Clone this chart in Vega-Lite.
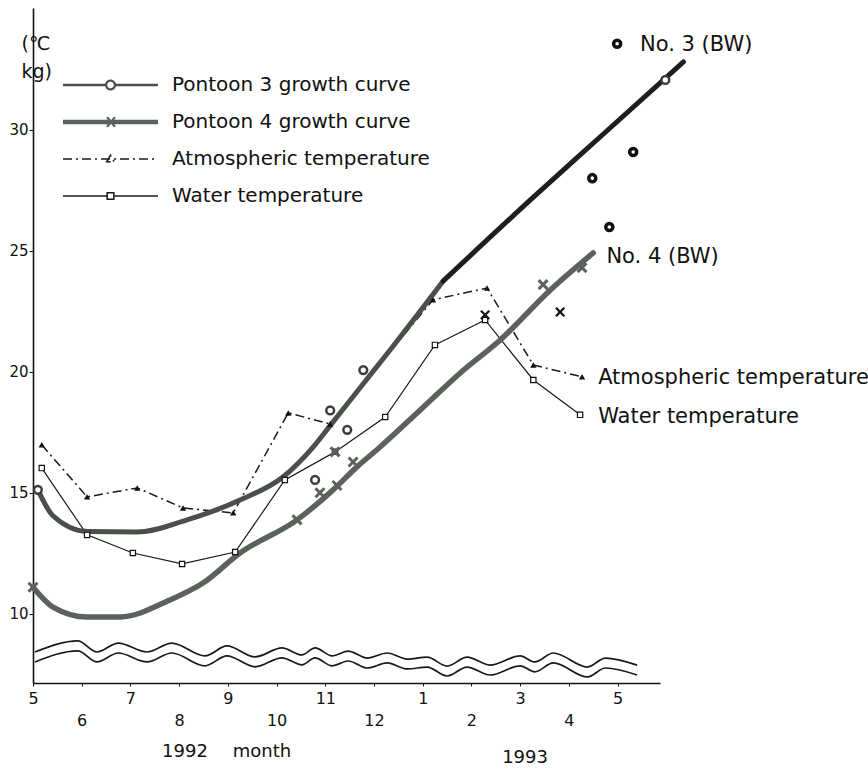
{
  "$schema": "https://vega.github.io/schema/vega-lite/v6.json",
  "width": 627,
  "height": 675,
  "autosize": {"type": "none"},
  "padding": {"left": 33, "top": 8, "right": 208, "bottom": 86},
  "background": "white",
  "config": {"view": {"stroke": null}, "font": "DejaVu Sans", "axis": {"grid": false}},
  "datasets": {
    "pontoon": [
      {"series": "Pontoon 3 growth curve", "m": 0.10, "v": 15.12},
      {"series": "Pontoon 3 growth curve", "m": 0.41, "v": 14.05},
      {"series": "Pontoon 3 growth curve", "m": 1.11, "v": 13.40},
      {"series": "Pontoon 3 growth curve", "m": 2.14, "v": 13.38},
      {"series": "Pontoon 3 growth curve", "m": 3.16, "v": 13.88},
      {"series": "Pontoon 3 growth curve", "m": 4.25, "v": 14.70},
      {"series": "Pontoon 3 growth curve", "m": 5.13, "v": 15.65},
      {"series": "Pontoon 3 growth curve", "m": 5.75, "v": 16.89},
      {"series": "Pontoon 3 growth curve", "m": 6.16, "v": 17.93},
      {"series": "Pontoon 3 growth curve", "m": 6.71, "v": 19.33},
      {"series": "Pontoon 3 growth curve", "m": 7.33, "v": 20.90},
      {"series": "Pontoon 3 growth curve", "m": 7.89, "v": 22.35},
      {"series": "Pontoon 3 growth curve", "m": 8.42, "v": 23.75},
      {"series": "Pontoon 3 growth curve", "m": 10.21, "v": 27.10},
      {"series": "Pontoon 3 growth curve", "m": 11.64, "v": 29.70},
      {"series": "Pontoon 3 growth curve", "m": 13.35, "v": 32.80},
      {"series": "Pontoon 4 growth curve", "m": 0.00, "v": 11.10},
      {"series": "Pontoon 4 growth curve", "m": 0.41, "v": 10.28},
      {"series": "Pontoon 4 growth curve", "m": 1.11, "v": 9.87},
      {"series": "Pontoon 4 growth curve", "m": 1.79, "v": 9.87},
      {"series": "Pontoon 4 growth curve", "m": 2.81, "v": 10.57},
      {"series": "Pontoon 4 growth curve", "m": 3.49, "v": 11.27},
      {"series": "Pontoon 4 growth curve", "m": 4.25, "v": 12.51},
      {"series": "Pontoon 4 growth curve", "m": 5.42, "v": 13.88},
      {"series": "Pontoon 4 growth curve", "m": 6.16, "v": 15.12},
      {"series": "Pontoon 4 growth curve", "m": 6.65, "v": 16.07},
      {"series": "Pontoon 4 growth curve", "m": 7.13, "v": 16.90},
      {"series": "Pontoon 4 growth curve", "m": 7.95, "v": 18.42},
      {"series": "Pontoon 4 growth curve", "m": 8.77, "v": 19.95},
      {"series": "Pontoon 4 growth curve", "m": 9.59, "v": 21.31},
      {"series": "Pontoon 4 growth curve", "m": 10.62, "v": 23.38},
      {"series": "Pontoon 4 growth curve", "m": 11.50, "v": 24.91}
    ],
    "temps": [
      {"series": "Atmospheric temperature", "m": 0.18, "v": 16.98},
      {"series": "Atmospheric temperature", "m": 1.11, "v": 14.83},
      {"series": "Atmospheric temperature", "m": 2.14, "v": 15.20},
      {"series": "Atmospheric temperature", "m": 3.08, "v": 14.37},
      {"series": "Atmospheric temperature", "m": 4.11, "v": 14.17},
      {"series": "Atmospheric temperature", "m": 5.24, "v": 18.30},
      {"series": "Atmospheric temperature", "m": 6.10, "v": 17.84},
      {"series": "Atmospheric temperature", "m": 8.21, "v": 22.97},
      {"series": "Atmospheric temperature", "m": 9.32, "v": 23.46},
      {"series": "Atmospheric temperature", "m": 10.27, "v": 20.28},
      {"series": "Atmospheric temperature", "m": 11.27, "v": 19.79},
      {"series": "Water temperature", "m": 0.18, "v": 16.02},
      {"series": "Water temperature", "m": 1.11, "v": 13.26},
      {"series": "Water temperature", "m": 2.05, "v": 12.51},
      {"series": "Water temperature", "m": 3.06, "v": 12.06},
      {"series": "Water temperature", "m": 4.15, "v": 12.55},
      {"series": "Water temperature", "m": 5.17, "v": 15.53},
      {"series": "Water temperature", "m": 6.20, "v": 16.69},
      {"series": "Water temperature", "m": 7.23, "v": 18.13},
      {"series": "Water temperature", "m": 8.25, "v": 21.11},
      {"series": "Water temperature", "m": 9.28, "v": 22.14},
      {"series": "Water temperature", "m": 10.27, "v": 19.66},
      {"series": "Water temperature", "m": 11.23, "v": 18.22}
    ],
    "p3marks": [
      {"m": 0.10, "v": 15.12}, {"m": 6.10, "v": 18.40}, {"m": 6.78, "v": 20.07},
      {"m": 12.98, "v": 32.06}, {"m": 5.79, "v": 15.53}, {"m": 6.45, "v": 17.60}
    ],
    "p3bw": [
      {"m": 11.99, "v": 33.55}, {"m": 12.32, "v": 29.08}, {"m": 11.48, "v": 28.00}, {"m": 11.83, "v": 25.98}
    ],
    "p4marks": [
      {"m": 0.00, "v": 11.10}, {"m": 5.42, "v": 13.88}, {"m": 5.89, "v": 15.00}, {"m": 6.24, "v": 15.30},
      {"m": 6.57, "v": 16.27}, {"m": 6.20, "v": 16.69}, {"m": 10.47, "v": 23.60}, {"m": 11.27, "v": 24.30}
    ],
    "p4bw": [
      {"m": 9.28, "v": 22.35}, {"m": 10.82, "v": 22.47}
    ],
    "breakwave": [
      {"line": "a", "m": 0.04, "v": 8.42}, {"line": "a", "m": 0.92, "v": 8.88}, {"line": "a", "m": 1.31, "v": 8.42},
      {"line": "a", "m": 1.75, "v": 8.79}, {"line": "a", "m": 2.34, "v": 8.42}, {"line": "a", "m": 2.85, "v": 8.79},
      {"line": "a", "m": 3.53, "v": 8.26}, {"line": "a", "m": 3.98, "v": 8.67}, {"line": "a", "m": 4.56, "v": 8.22},
      {"line": "a", "m": 5.11, "v": 8.59}, {"line": "a", "m": 5.52, "v": 8.30}, {"line": "a", "m": 5.79, "v": 8.59},
      {"line": "a", "m": 6.14, "v": 8.26}, {"line": "a", "m": 6.47, "v": 8.46}, {"line": "a", "m": 6.86, "v": 8.17},
      {"line": "a", "m": 7.27, "v": 8.38}, {"line": "a", "m": 7.68, "v": 8.13}, {"line": "a", "m": 8.09, "v": 8.21},
      {"line": "a", "m": 8.50, "v": 7.84}, {"line": "a", "m": 8.91, "v": 8.21}, {"line": "a", "m": 9.38, "v": 7.88},
      {"line": "a", "m": 10.00, "v": 8.26}, {"line": "a", "m": 10.30, "v": 8.01}, {"line": "a", "m": 10.68, "v": 8.38},
      {"line": "a", "m": 11.38, "v": 7.80}, {"line": "a", "m": 11.75, "v": 8.17}, {"line": "a", "m": 12.40, "v": 7.88},
      {"line": "b", "m": 0.04, "v": 8.01}, {"line": "b", "m": 0.92, "v": 8.47}, {"line": "b", "m": 1.31, "v": 8.01},
      {"line": "b", "m": 1.75, "v": 8.38}, {"line": "b", "m": 2.34, "v": 8.01}, {"line": "b", "m": 2.85, "v": 8.38},
      {"line": "b", "m": 3.53, "v": 7.85}, {"line": "b", "m": 3.98, "v": 8.26}, {"line": "b", "m": 4.56, "v": 7.81},
      {"line": "b", "m": 5.11, "v": 8.18}, {"line": "b", "m": 5.52, "v": 7.89}, {"line": "b", "m": 5.79, "v": 8.18},
      {"line": "b", "m": 6.14, "v": 7.85}, {"line": "b", "m": 6.47, "v": 8.05}, {"line": "b", "m": 6.86, "v": 7.76},
      {"line": "b", "m": 7.27, "v": 7.97}, {"line": "b", "m": 7.68, "v": 7.72}, {"line": "b", "m": 8.09, "v": 7.80},
      {"line": "b", "m": 8.50, "v": 7.43}, {"line": "b", "m": 8.91, "v": 7.80}, {"line": "b", "m": 9.38, "v": 7.47},
      {"line": "b", "m": 10.00, "v": 7.85}, {"line": "b", "m": 10.30, "v": 7.60}, {"line": "b", "m": 10.68, "v": 7.97},
      {"line": "b", "m": 11.38, "v": 7.39}, {"line": "b", "m": 11.75, "v": 7.76}, {"line": "b", "m": 12.40, "v": 7.47}
    ],
    "notesLeft": [
      {"label": "Atmospheric temperature", "m": 11.6, "v": 19.74},
      {"label": "Water temperature", "m": 11.6, "v": 18.13},
      {"label": "No. 3 (BW)", "m": 12.46, "v": 33.5},
      {"label": "No. 4 (BW)", "m": 11.77, "v": 24.74}
    ],
    "notesBottom": [
      {"label": "1992", "m": 3.12, "v": 4.29},
      {"label": "month", "m": 4.7, "v": 4.29},
      {"label": "1993", "m": 10.1, "v": 4.04}
    ]
  },
  "encoding": {
    "x": {
      "field": "m", "type": "quantitative",
      "scale": {"domain": [0, 12.87], "nice": false, "zero": false},
      "axis": {
        "values": [0, 1, 2, 3, 4, 5, 6, 7, 8, 9, 10, 11, 12],
        "labelExpr": "datum.value % 2 === 1 ? ['', '' + ((datum.value + 4) % 12 + 1)] : '' + ((datum.value + 4) % 12 + 1)",
        "labelLineHeight": 22,
        "title": null,
        "domainColor": "#111", "domainWidth": 1.6,
        "tickColor": "#111", "tickSize": 3, "tickWidth": 1,
        "labelFont": "DejaVu Sans", "labelFontSize": 16, "labelColor": "#111",
        "labelPadding": 4, "labelFlush": false, "labelOverlap": false
      }
    },
    "y": {
      "field": "v", "type": "quantitative",
      "scale": {"domain": [7.14, 35.03], "nice": false, "zero": false},
      "axis": {
        "values": [10, 15, 20, 25, 30],
        "title": ["(℃", "kg)"],
        "titleAngle": 0, "titleAlign": "left", "titleBaseline": "top",
        "titleX": -12, "titleY": 26, "titleFont": "DejaVu Sans", "titleFontSize": 19,
        "titleFontWeight": "normal", "titleLineHeight": 28, "titleColor": "#111",
        "labelFont": "DejaVu Sans", "labelFontSize": 15, "labelColor": "#111", "labelPadding": 1,
        "tickSize": 4, "tickColor": "#111", "domainColor": "#111", "domainWidth": 1.6
      }
    }
  },
  "layer": [
    {
      "data": {"name": "breakwave"},
      "mark": {"type": "line", "interpolate": "monotone", "color": "#1a1a1a", "strokeWidth": 1.7},
      "encoding": {"detail": {"field": "line", "type": "nominal"}}
    },
    {
      "data": {"name": "temps"},
      "transform": [{"filter": "datum.series === 'Water temperature'"}],
      "mark": {"type": "line", "strokeWidth": 1.2},
      "encoding": {
        "color": {
          "field": "series", "type": "nominal",
          "scale": {"domain": ["Pontoon 3 growth curve", "Pontoon 4 growth curve", "Atmospheric temperature", "Water temperature"], "range": ["#4a4f4a", "#5b625b", "#1a1a1a", "#1a1a1a"]},
          "legend": {
            "title": null, "orient": "none", "legendX": 29, "legendY": 67, "direction": "vertical",
            "symbolSize": 9025, "clipHeight": 20, "rowPadding": 17, "labelOffset": 13, "padding": 0,
            "labelFont": "DejaVu Sans", "labelFontSize": 20, "labelColor": "#111", "labelLimit": 400,
            "symbolStrokeWidth": 1.5,
            "encode": {"symbols": {"update": {
              "shape": {"signal": "datum.value === 'Pontoon 3 growth curve' ? 'M-1,-0.012H-0.1M0.1,-0.012H1M-1,0.012H-0.1M0.1,0.012H1M-0.1,0A0.1,0.1 0 1,1 0.1,0A0.1,0.1 0 1,1 -0.1,0M-0.085,0A0.085,0.085 0 1,1 0.085,0A0.085,0.085 0 1,1 -0.085,0' : datum.value === 'Pontoon 4 growth curve' ? 'M-1,-0.03H1M-1,-0.01H1M-1,0.01H1M-1,0.03H1M-0.08,-0.1L0.08,0.1M-0.08,0.1L0.08,-0.1M-0.06,-0.1L0.1,0.1M-0.06,0.1L0.1,-0.1' : datum.value === 'Atmospheric temperature' ? 'M-1,0H1M-0.08,0.06L0,-0.08L0.08,0.06Z' : 'M-1,0H-0.07M0.07,0H1M-0.07,-0.07H0.07V0.07H-0.07Z'"},
              "stroke": {"signal": "datum.value === 'Pontoon 4 growth curve' ? '#5b625b' : '#1a1a1a'"},
              "strokeDash": {"signal": "datum.value === 'Atmospheric temperature' ? [9, 4, 2, 4] : [1, 0]"},
              "fill": {"value": "transparent"}
            }}}
          }
        }
      }
    },
    {
      "data": {"name": "temps"},
      "transform": [{"filter": "datum.series === 'Atmospheric temperature'"}],
      "mark": {"type": "line", "strokeWidth": 1.5, "strokeDash": [9, 4, 2, 4]},
      "encoding": {
        "color": {
          "field": "series", "type": "nominal",
          "scale": {"domain": ["Pontoon 3 growth curve", "Pontoon 4 growth curve", "Atmospheric temperature", "Water temperature"], "range": ["#4a4f4a", "#5b625b", "#1a1a1a", "#1a1a1a"]},
          "legend": {
            "title": null, "orient": "none", "legendX": 29, "legendY": 67, "direction": "vertical",
            "symbolSize": 9025, "clipHeight": 20, "rowPadding": 17, "labelOffset": 13, "padding": 0,
            "labelFont": "DejaVu Sans", "labelFontSize": 20, "labelColor": "#111", "labelLimit": 400,
            "symbolStrokeWidth": 1.5,
            "encode": {"symbols": {"update": {
              "shape": {"signal": "datum.value === 'Pontoon 3 growth curve' ? 'M-1,-0.012H-0.1M0.1,-0.012H1M-1,0.012H-0.1M0.1,0.012H1M-0.1,0A0.1,0.1 0 1,1 0.1,0A0.1,0.1 0 1,1 -0.1,0M-0.085,0A0.085,0.085 0 1,1 0.085,0A0.085,0.085 0 1,1 -0.085,0' : datum.value === 'Pontoon 4 growth curve' ? 'M-1,-0.03H1M-1,-0.01H1M-1,0.01H1M-1,0.03H1M-0.08,-0.1L0.08,0.1M-0.08,0.1L0.08,-0.1M-0.06,-0.1L0.1,0.1M-0.06,0.1L0.1,-0.1' : datum.value === 'Atmospheric temperature' ? 'M-1,0H1M-0.08,0.06L0,-0.08L0.08,0.06Z' : 'M-1,0H-0.07M0.07,0H1M-0.07,-0.07H0.07V0.07H-0.07Z'"},
              "stroke": {"signal": "datum.value === 'Pontoon 4 growth curve' ? '#5b625b' : '#1a1a1a'"},
              "strokeDash": {"signal": "datum.value === 'Atmospheric temperature' ? [9, 4, 2, 4] : [1, 0]"},
              "fill": {"value": "transparent"}
            }}}
          }
        }
      }
    },
    {
      "data": {"name": "pontoon"},
      "transform": [{"filter": "datum.series === 'Pontoon 4 growth curve'"}],
      "mark": {"type": "line", "interpolate": "monotone", "strokeWidth": 5.5, "strokeCap": "round"},
      "encoding": {
        "color": {
          "field": "series", "type": "nominal",
          "scale": {"domain": ["Pontoon 3 growth curve", "Pontoon 4 growth curve", "Atmospheric temperature", "Water temperature"], "range": ["#4a4f4a", "#5b625b", "#1a1a1a", "#1a1a1a"]},
          "legend": {
            "title": null, "orient": "none", "legendX": 29, "legendY": 67, "direction": "vertical",
            "symbolSize": 9025, "clipHeight": 20, "rowPadding": 17, "labelOffset": 13, "padding": 0,
            "labelFont": "DejaVu Sans", "labelFontSize": 20, "labelColor": "#111", "labelLimit": 400,
            "symbolStrokeWidth": 1.5,
            "encode": {"symbols": {"update": {
              "shape": {"signal": "datum.value === 'Pontoon 3 growth curve' ? 'M-1,-0.012H-0.1M0.1,-0.012H1M-1,0.012H-0.1M0.1,0.012H1M-0.1,0A0.1,0.1 0 1,1 0.1,0A0.1,0.1 0 1,1 -0.1,0M-0.085,0A0.085,0.085 0 1,1 0.085,0A0.085,0.085 0 1,1 -0.085,0' : datum.value === 'Pontoon 4 growth curve' ? 'M-1,-0.03H1M-1,-0.01H1M-1,0.01H1M-1,0.03H1M-0.08,-0.1L0.08,0.1M-0.08,0.1L0.08,-0.1M-0.06,-0.1L0.1,0.1M-0.06,0.1L0.1,-0.1' : datum.value === 'Atmospheric temperature' ? 'M-1,0H1M-0.08,0.06L0,-0.08L0.08,0.06Z' : 'M-1,0H-0.07M0.07,0H1M-0.07,-0.07H0.07V0.07H-0.07Z'"},
              "stroke": {"signal": "datum.value === 'Pontoon 4 growth curve' ? '#5b625b' : '#1a1a1a'"},
              "strokeDash": {"signal": "datum.value === 'Atmospheric temperature' ? [9, 4, 2, 4] : [1, 0]"},
              "fill": {"value": "transparent"}
            }}}
          }
        }
      }
    },
    {
      "data": {"name": "pontoon"},
      "transform": [{"filter": "datum.series === 'Pontoon 3 growth curve' && datum.m <= 8.42"}],
      "mark": {"type": "line", "interpolate": "monotone", "strokeWidth": 5, "strokeCap": "round"},
      "encoding": {
        "color": {
          "field": "series", "type": "nominal",
          "scale": {"domain": ["Pontoon 3 growth curve", "Pontoon 4 growth curve", "Atmospheric temperature", "Water temperature"], "range": ["#4a4f4a", "#5b625b", "#1a1a1a", "#1a1a1a"]},
          "legend": {
            "title": null, "orient": "none", "legendX": 29, "legendY": 67, "direction": "vertical",
            "symbolSize": 9025, "clipHeight": 20, "rowPadding": 17, "labelOffset": 13, "padding": 0,
            "labelFont": "DejaVu Sans", "labelFontSize": 20, "labelColor": "#111", "labelLimit": 400,
            "symbolStrokeWidth": 1.5,
            "encode": {"symbols": {"update": {
              "shape": {"signal": "datum.value === 'Pontoon 3 growth curve' ? 'M-1,-0.012H-0.1M0.1,-0.012H1M-1,0.012H-0.1M0.1,0.012H1M-0.1,0A0.1,0.1 0 1,1 0.1,0A0.1,0.1 0 1,1 -0.1,0M-0.085,0A0.085,0.085 0 1,1 0.085,0A0.085,0.085 0 1,1 -0.085,0' : datum.value === 'Pontoon 4 growth curve' ? 'M-1,-0.03H1M-1,-0.01H1M-1,0.01H1M-1,0.03H1M-0.08,-0.1L0.08,0.1M-0.08,0.1L0.08,-0.1M-0.06,-0.1L0.1,0.1M-0.06,0.1L0.1,-0.1' : datum.value === 'Atmospheric temperature' ? 'M-1,0H1M-0.08,0.06L0,-0.08L0.08,0.06Z' : 'M-1,0H-0.07M0.07,0H1M-0.07,-0.07H0.07V0.07H-0.07Z'"},
              "stroke": {"signal": "datum.value === 'Pontoon 4 growth curve' ? '#5b625b' : '#1a1a1a'"},
              "strokeDash": {"signal": "datum.value === 'Atmospheric temperature' ? [9, 4, 2, 4] : [1, 0]"},
              "fill": {"value": "transparent"}
            }}}
          }
        }
      }
    },
    {
      "data": {"name": "pontoon"},
      "transform": [{"filter": "datum.series === 'Pontoon 3 growth curve' && datum.m >= 8.42"}],
      "mark": {"type": "line", "interpolate": "monotone", "color": "#1e1e1e", "strokeWidth": 5, "strokeCap": "round"},
      "encoding": {}
    },
    {
      "data": {"name": "temps"},
      "transform": [{"filter": "datum.series === 'Water temperature'"}],
      "mark": {"type": "point", "shape": "square", "filled": true, "fill": "white", "stroke": "#111", "strokeWidth": 1.2, "size": 28, "opacity": 1}
    },
    {
      "data": {"name": "temps"},
      "transform": [{"filter": "datum.series === 'Atmospheric temperature'"}],
      "mark": {"type": "point", "shape": "triangle-up", "filled": true, "color": "#111", "size": 40, "opacity": 1}
    },
    {
      "data": {"name": "p3marks"},
      "mark": {"type": "point", "shape": "circle", "filled": true, "fill": "white", "stroke": "#3a3d3a", "strokeWidth": 2.5, "size": 60, "opacity": 1}
    },
    {
      "data": {"name": "p3bw"},
      "mark": {"type": "point", "shape": "circle", "filled": true, "fill": "white", "stroke": "#111", "strokeWidth": 3.5, "size": 50, "opacity": 1}
    },
    {
      "data": {"name": "p4marks"},
      "mark": {"type": "point", "shape": "M-1,-1L1,1M-1,1L1,-1", "filled": false, "stroke": "#5b625b", "strokeWidth": 3, "size": 80, "opacity": 1}
    },
    {
      "data": {"name": "p4bw"},
      "mark": {"type": "point", "shape": "M-1,-1L1,1M-1,1L1,-1", "filled": false, "stroke": "#111", "strokeWidth": 2.2, "size": 70, "opacity": 1}
    },
    {
      "data": {"name": "notesLeft"},
      "mark": {"type": "text", "align": "left", "baseline": "middle", "font": "DejaVu Sans", "fontSize": 21, "color": "#111"},
      "encoding": {"text": {"field": "label", "type": "nominal"}}
    },
    {
      "data": {"name": "notesBottom"},
      "mark": {"type": "text", "align": "center", "baseline": "middle", "font": "DejaVu Sans", "fontSize": 18, "color": "#111"},
      "encoding": {"text": {"field": "label", "type": "nominal"}}
    }
  ]
}
